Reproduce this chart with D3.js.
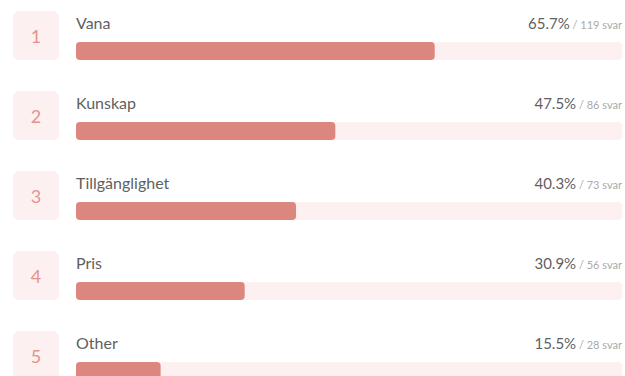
<!DOCTYPE html>
<html>
<head>
<meta charset="utf-8">
<script src="https://cdn.jsdelivr.net/npm/d3@7"></script>
<style>
  body { margin: 0; background: #fff; }
  text { font-family: "Lato", "Open Sans", sans-serif; }
</style>
</head>
<body>
<svg id="chart" width="625" height="376"></svg>
<script>
  const categories = ["Vana", "Kunskap", "Tillgänglighet", "Pris", "Other"];
  const percents = [65.7, 47.5, 40.3, 30.9, 15.5];
  const counts = [119, 86, 73, 56, 28];

  const rowH = 80;
  const left = 76;
  const right = 622;

  const x = d3.scaleLinear().domain([0, 100]).range([0, right - left]);
  const y = d3.scaleBand().domain(d3.range(categories.length)).range([0, rowH * categories.length]);

  const svg = d3.select("#chart");

  const rows = svg.selectAll(".row")
    .data(categories.map((c, i) => ({ name: c, pct: percents[i], n: counts[i], i })))
    .enter()
    .append("g")
    .attr("class", "row")
    .attr("transform", (d) => `translate(0,${y(d.i)})`);

  // rank box
  rows.append("rect")
    .attr("x", 13).attr("y", 11)
    .attr("width", 46).attr("height", 49)
    .attr("rx", 6)
    .attr("fill", "#fcf1f0");
  rows.append("text")
    .attr("x", 36).attr("y", 43)
    .attr("text-anchor", "middle")
    .attr("font-size", 18)
    .attr("fill", "#e4938e")
    .text((d) => d.i + 1);

  rows.append("text")
    .attr("x", left).attr("y", 29)
    .attr("font-size", 16)
    .attr("fill", "#5f5f5f")
    .text((d) => d.name);

  // value label
  const lab = rows.append("text")
    .attr("x", right).attr("y", 29)
    .attr("text-anchor", "end");
  lab.append("tspan")
    .attr("font-size", 15)
    .attr("fill", "#5f5f5f")
    .text((d) => d.pct.toFixed(1) + "%");
  lab.append("tspan")
    .attr("font-size", 11)
    .attr("fill", "#aaaaaa")
    .text((d) => ` / ${d.n} svar`);

  // track + bar
  rows.append("rect")
    .attr("x", left).attr("y", 42)
    .attr("width", x(100)).attr("height", 18)
    .attr("rx", 4)
    .attr("fill", "#fcf1f0");
  rows.append("rect")
    .attr("x", left).attr("y", 42)
    .attr("width", (d) => x(d.pct)).attr("height", 18)
    .attr("rx", 4)
    .attr("fill", "#dc8680");
</script>
</body>
</html>
